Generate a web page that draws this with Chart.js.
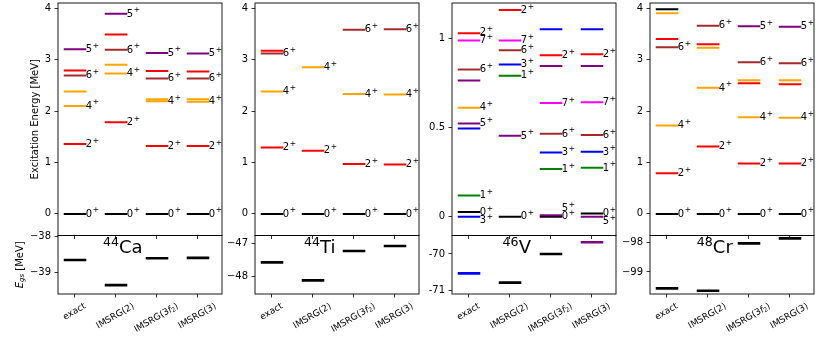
<!DOCTYPE html>
<html><head><meta charset="utf-8">
<script src="https://cdn.jsdelivr.net/npm/chart.js@4.4.1/dist/chart.umd.min.js"></script>
<style>
html,body{margin:0;padding:0;background:#fff;}
body{width:830px;height:346px;position:relative;overflow:hidden;}
canvas{position:absolute;}
</style></head><body>
<script>
// ---------------- data ----------------
const categories = ['exact', 'IMSRG(2)', 'IMSRG(3f₂)', 'IMSRG(3)'];

// levels: [J, excitation energy MeV]  (all positive parity)
const ca44_exact    = [[0,0],[2,1.36],[4,2.10],[4,2.38],[6,2.69],[2,2.79],[5,3.20]];
const ca44_imsrg2   = [[0,0],[2,1.78],[4,2.73],[4,2.90],[6,3.19],[2,3.49],[5,3.89]];
const ca44_imsrg3f2 = [[0,0],[2,1.32],[4,2.19],[4,2.23],[6,2.63],[2,2.78],[5,3.13]];
const ca44_imsrg3   = [[0,0],[2,1.32],[4,2.18],[4,2.23],[6,2.63],[2,2.77],[5,3.12]];
const ca44_gs  = [-38.66, -39.37, -38.61, -38.60];
const ca44_gsJ = [0, 0, 0, 0];
const ca44_yTicks  = [0, 1, 2, 3, 4];
const ca44_gsTicks = [-38, -39];

const ti44_exact    = [[0,0],[2,1.29],[4,2.38],[6,3.12],[2,3.17]];
const ti44_imsrg2   = [[0,0],[2,1.23],[4,2.85]];
const ti44_imsrg3f2 = [[0,0],[2,0.97],[4,2.33],[6,3.58]];
const ti44_imsrg3   = [[0,0],[2,0.96],[4,2.32],[6,3.59]];
const ti44_gs  = [-47.57, -48.11, -47.23, -47.08];
const ti44_gsJ = [0, 0, 0, 0];
const ti44_yTicks  = [0, 1, 2, 3, 4];
const ti44_gsTicks = [-47, -48];

const v46_exact    = [[0,0.026],[3,0],[1,0.118],[3,0.495],[5,0.523],[4,0.612],[5,0.765],[6,0.826],[7,0.989],[2,1.03]];
const v46_imsrg2   = [[0,0],[5,0.454],[1,0.792],[3,0.854],[6,0.934],[7,0.99],[2,1.16]];
const v46_imsrg3f2 = [[0,0],[5,0.008],[1,0.268],[3,0.360],[6,0.465],[7,0.638],[5,0.846],[2,0.906],[3,1.052]];
const v46_imsrg3   = [[0,0.017],[5,0],[1,0.274],[3,0.364],[6,0.458],[7,0.642],[5,0.846],[2,0.912],[3,1.052]];
const v46_gs  = [-70.53, -70.78, -70.00, -69.68];
const v46_gsJ = [3, 0, 0, 5];
const v46_yTicks  = [0, 0.5, 1];
const v46_gsTicks = [-70, -71];

const cr48_exact    = [[0,0],[2,0.79],[4,1.72],[6,3.24],[2,3.40],[4,3.90],[0,3.98]];
const cr48_imsrg2   = [[0,0],[2,1.31],[4,2.45],[4,3.23],[2,3.30],[6,3.66]];
const cr48_imsrg3f2 = [[0,0],[2,0.98],[4,1.88],[2,2.54],[4,2.60],[6,2.95],[5,3.65]];
const cr48_imsrg3   = [[0,0],[2,0.98],[4,1.87],[2,2.52],[4,2.60],[6,2.93],[5,3.64]];
const cr48_gs  = [-99.56, -99.64, -98.03, -97.86];
const cr48_gsJ = [0, 0, 0, 0];
const cr48_yTicks  = [0, 1, 2, 3, 4];
const cr48_gsTicks = [-98, -99];

// ---------------- styles / layout ----------------
const jColors = {0:'#000000',1:'#008000',2:'#ff0000',3:'#0000ff',4:'#ffa500',5:'#800080',6:'#a52a2a',7:'#ff00ff'};
const FONT = "'DejaVu Sans', 'Liberation Sans', sans-serif";
const TOP = 3, MID = 235.5, BOT = 294, PW = 164;
const SEG_L = 0.26, SEG_R = 0.29;

const panels = [
  {mass:'44', sym:'Ca', levels:[ca44_exact,ca44_imsrg2,ca44_imsrg3f2,ca44_imsrg3], gs:ca44_gs, gsJ:ca44_gsJ,
   yTicks:ca44_yTicks, gsTicks:ca44_gsTicks, left:58, yRange:[-0.42,4.1], gsRange:[-39.623,-37.966], asciiMinus:false, first:true},
  {mass:'44', sym:'Ti', levels:[ti44_exact,ti44_imsrg2,ti44_imsrg3f2,ti44_imsrg3], gs:ti44_gs, gsJ:ti44_gsJ,
   yTicks:ti44_yTicks, gsTicks:ti44_gsTicks, left:255, yRange:[-0.42,4.1], gsRange:[-48.518,-46.766], asciiMinus:false},
  {mass:'46', sym:'V', levels:[v46_exact,v46_imsrg2,v46_imsrg3f2,v46_imsrg3], gs:v46_gs, gsJ:v46_gsJ,
   yTicks:v46_yTicks, gsTicks:v46_gsTicks, left:452, yRange:[-0.106,1.2], gsRange:[-71.09,-69.496], asciiMinus:true},
  {mass:'48', sym:'Cr', levels:[cr48_exact,cr48_imsrg2,cr48_imsrg3f2,cr48_imsrg3], gs:cr48_gs, gsJ:cr48_gsJ,
   yTicks:cr48_yTicks, gsTicks:cr48_gsTicks, left:650, yRange:[-0.42,4.1], gsRange:[-99.75,-97.76], asciiMinus:false}
];

function fontStr(r){ return (r.italic?'italic ':'') + (r.size||10) + 'px ' + FONT; }
function runsWidth(ctx, runs){
  let w = 0;
  runs.forEach(r=>{ ctx.font = fontStr(r); w += ctx.measureText(r.t).width + (r.gap||0); });
  return w;
}
function drawRuns(ctx, runs, x, y, align){
  const total = runsWidth(ctx, runs);
  let cx = align === 'center' ? x - total/2 : x;
  runs.forEach(r=>{
    ctx.font = fontStr(r);
    cx += (r.gap||0);
    ctx.fillText(r.t, cx, y + (r.dy||0));
    cx += ctx.measureText(r.t).width;
  });
  return total;
}
function catRuns(label, size){
  const k = label.indexOf('f₂');
  if (k < 0) return [{t:label, size}];
  return [{t:label.slice(0,k), size}, {t:'f', size, italic:true},
          {t:'2', size:size*0.7, dy:size*0.22}, {t:label.slice(k+2), size}];
}
function fmtTick(v, ascii){
  const s = String(v);
  return ascii ? s : s.replace('-', '\u2212');
}

function makeChart(o){
  const c = document.createElement('canvas');
  c.width = o.w; c.height = o.h;
  c.style.left = o.x0 + 'px'; c.style.top = o.y0 + 'px';
  c.style.width = o.w + 'px'; c.style.height = o.h + 'px';
  document.body.appendChild(c);
  const ML = o.area.left - o.x0, MT = o.area.top - o.y0;
  const MR = o.x0 + o.w - o.area.right, MB = o.y0 + o.h - o.area.bottom;
  const gridOpts = {display:true, drawOnChartArea:false, drawTicks:true, tickLength:3.5, tickWidth:0.8, tickColor:'#000'};
  return new Chart(c, {
    type:'line',
    data:{datasets:o.datasets},
    options:{
      responsive:false, animation:false, devicePixelRatio:1, events:[],
      layout:{padding:{top:MT, right:MR, left:0, bottom:0}},
      plugins:{legend:{display:false}, tooltip:{enabled:false}, title:{display:false}},
      scales:{
        x:{type:'linear', min:-0.4, max:3.6,
           afterBuildTicks:s=>{ s.ticks = categories.map((_,i)=>({value:i})); },
           ticks:{display:false}, grid:gridOpts, border:{display:false},
           afterFit:s=>{ s.height = MB; s.paddingLeft = 0; s.paddingRight = 0; s.paddingTop = 0; s.paddingBottom = 0; }},
        y:{type:'linear', min:o.yRange[0], max:o.yRange[1],
           afterBuildTicks:s=>{ s.ticks = o.yTicks.map(v=>({value:v})); },
           ticks:{display:true, autoSkip:false, color:'#000', padding:3.5, font:{family:FONT, size:10},
                  callback:(v)=>fmtTick(v, o.ascii)},
           grid:gridOpts, border:{display:false},
           afterFit:s=>{ s.width = ML; s.paddingTop = 0; s.paddingBottom = 0; s.paddingLeft = 0; s.paddingRight = 0; }}
      }
    },
    plugins:[{
      id:'custom',
      afterDatasetsDraw(chart){ if (o.drawAfterData) o.drawAfterData(chart); },
      afterDraw(chart){
        const a = chart.chartArea, ctx = chart.ctx;
        ctx.save();
        ctx.strokeStyle = '#000'; ctx.lineWidth = 0.9;
        ctx.strokeRect(a.left, a.top, a.right - a.left, a.bottom - a.top);
        ctx.restore();
        if (o.drawAfter) o.drawAfter(chart, o.x0, o.y0);
      }
    }]
  });
}

panels.forEach(P => {
  // ---------- top: excitation spectra ----------
  const ds = [];
  let n = 0;
  P.levels.forEach((lv, i) => {
    lv.forEach(([J, E]) => {
      ds.push({data:[{x:i-SEG_L, y:E},{x:i+SEG_R, y:E}], borderColor:jColors[J], borderWidth:2,
               pointRadius:0, fill:false, order:-(n++)});
    });
  });
  makeChart({
    x0:P.left-50, y0:0, w:50+PW+8, h:242,
    area:{left:P.left, top:TOP, right:P.left+PW, bottom:MID},
    yRange:P.yRange, yTicks:P.yTicks, ascii:P.asciiMinus, datasets:ds,
    drawAfterData(chart){
      const ctx = chart.ctx, xs = chart.scales.x, ys = chart.scales.y;
      ctx.save(); ctx.fillStyle = '#000'; ctx.textBaseline = 'alphabetic'; ctx.textAlign = 'left';
      P.levels.forEach((lv, i) => {
        // lowest state of each J gets a label
        const lowest = {};
        lv.forEach(([J,E], k) => { if (!(J in lowest) || E < lv[lowest[J]][1]) lowest[J] = k; });
        const placed = [];
        lv.forEach(([J,E], k) => {
          if (lowest[J] !== k) return;
          let y = ys.getPixelForValue(E);
          placed.forEach(p => {
            if (Math.abs(y - p.y) < 8) y = (E > p.E) ? p.y - 8 : p.y + 8;
          });
          placed.push({y, E});
          const x = xs.getPixelForValue(i + SEG_R) - 0.6;
          drawRuns(ctx, [{t:String(J), size:10}, {t:'+', size:7.5, dy:-4.1, gap:0.8}], x, y + 2.7, 'left');
        });
      });
      ctx.restore();
    },
    drawAfter(chart, x0, y0){
      if (!P.first) return;
      const ctx = chart.ctx;
      ctx.save(); ctx.fillStyle = '#000';
      ctx.translate(35 - x0, (TOP + MID)/2 - y0); ctx.rotate(-Math.PI/2);
      ctx.textBaseline = 'middle';
      drawRuns(ctx, [{t:'Excitation Energy [MeV]', size:10}], 0, 0, 'center');
      ctx.restore();
    }
  });

  // ---------- bottom: ground-state energies ----------
  const gds = P.gs.map((E, i) => ({data:[{x:i-SEG_L, y:E},{x:i+SEG_R, y:E}], borderColor:jColors[P.gsJ[i]],
      borderWidth:2.7, pointRadius:0, fill:false}));
  makeChart({
    x0:P.left-50, y0:224, w:50+PW+8, h:122,
    area:{left:P.left, top:MID, right:P.left+PW, bottom:BOT},
    yRange:P.gsRange, yTicks:P.gsTicks, ascii:P.asciiMinus, datasets:gds,
    drawAfter(chart, x0, y0){
      const ctx = chart.ctx, xs = chart.scales.x, a = chart.chartArea;
      ctx.save(); ctx.fillStyle = '#000';
      // nucleus label
      ctx.textBaseline = 'alphabetic';
      drawRuns(ctx, [{t:P.mass, size:12.6, dy:-7}, {t:P.sym, size:18}], xs.getPixelForValue(1.18), a.top + 17.8, 'center');
      // category labels rotated 30 deg, centered under ticks
      const fs = 9;
      categories.forEach((lab, i) => {
        const runs = catRuns(lab, fs);
        const w = runsWidth(ctx, runs);
        const h = fs * 1.17;
        const H = w * 0.5 + h * Math.cos(Math.PI/6);
        ctx.save();
        ctx.translate(xs.getPixelForValue(i), a.bottom + 7 + H/2);
        ctx.rotate(-Math.PI/6);
        ctx.textBaseline = 'middle';
        drawRuns(ctx, runs, 0, 0, 'center');
        ctx.restore();
      });
      if (P.first) {
        ctx.translate(20 - x0, (MID + BOT)/2 - y0); ctx.rotate(-Math.PI/2);
        ctx.textBaseline = 'middle';
        drawRuns(ctx, [{t:'E', size:10, italic:true}, {t:'gs', size:7, italic:true, dy:2.5}, {t:' [MeV]', size:10}], 0, 0, 'center');
      }
      ctx.restore();
    }
  });
});
</script>
</body></html>
